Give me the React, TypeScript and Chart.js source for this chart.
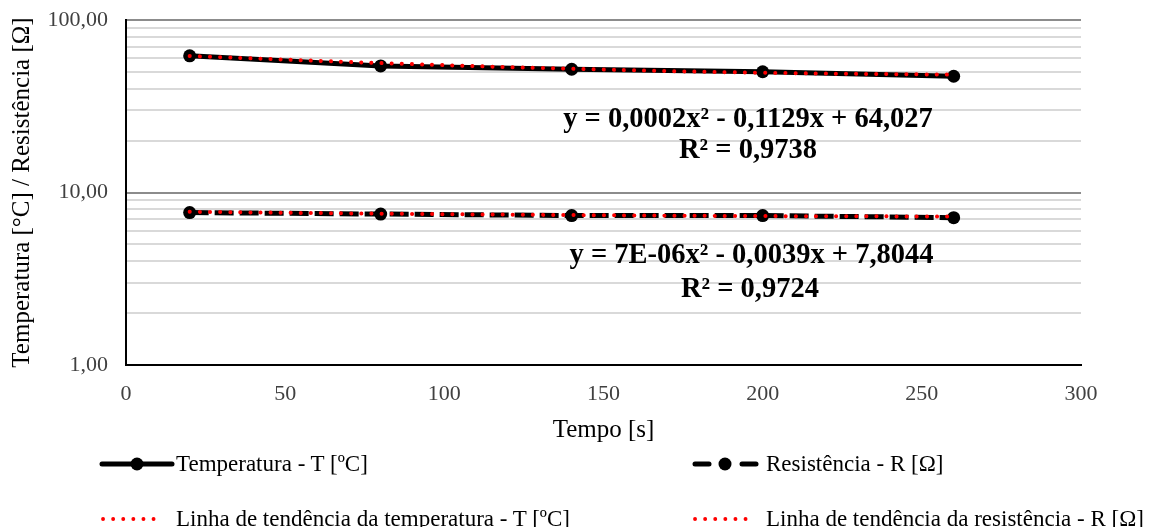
import React, { useEffect, useRef } from "react";
import { Chart, registerables } from "chart.js";

Chart.register(...registerables);

// ---- data ----
const timeValues = [20, 80, 140, 200, 260];
const temperature = [62, 54.2, 51.8, 50.1, 47.2];
const resistance = [7.65, 7.5, 7.35, 7.35, 7.15];
const temperatureTrend = [61.85, 56.27, 52.14, 49.45, 48.19];
const resistanceTrend = [7.73, 7.54, 7.4, 7.3, 7.26];

const xTickValues = [0, 50, 100, 150, 200, 250, 300];
const yGridValues = [1, 2, 3, 4, 5, 6, 7, 8, 9, 10, 20, 30, 40, 50, 60, 70, 80, 90, 100];
const yTickValues = [1, 10, 100];
const yTickLabels = ["1,00", "10,00", "100,00"];

const xTitle = "Tempo [s]";
const yTitle = "Temperatura [°C] / Resistência [Ω]";

const equationTexts = [
  "y = 0,0002x² - 0,1129x + 64,027",
  "R² = 0,9738",
  "y = 7E-06x² - 0,0039x + 7,8044",
  "R² = 0,9724",
];
// label anchors in data units (x in s, y on log axis)
const equationAnchorX = [195.4, 195.4, 196.5, 196];
const equationAnchorY = [26.3, 17.5, 4.3, 2.75];

const legendLabels = [
  "Temperatura - T [ºC]",
  "Resistência - R [Ω]",
  "Linha de tendência da temperatura - T [ºC]",
  "Linha de tendência da resistência - R [Ω]",
];

const FONT = "'Liberation Serif', 'Times New Roman', serif";

const equationPlugin = {
  id: "equations",
  afterDatasetsDraw(chart: any) {
    const { ctx, scales } = chart;
    const x = scales.x;
    const y = scales.y;
    ctx.save();
    ctx.font = `bold 28.5px ${FONT}`;
    ctx.fillStyle = "#000";
    ctx.textAlign = "center";
    ctx.textBaseline = "middle";
    equationTexts.forEach((t, i) => {
      ctx.fillText(t, x.getPixelForValue(equationAnchorX[i]), y.getPixelForValue(equationAnchorY[i]));
    });
    ctx.restore();
  },
};

function LegendSample({ kind }: { kind: string }) {
  if (kind === "temp") {
    return (
      <svg width={76} height={20} style={{ display: "block" }}>
        <line x1={3} y1={10} x2={73} y2={10} stroke="#000" strokeWidth={5} strokeLinecap="round" />
        <circle cx={38} cy={10} r={6.5} fill="#000" />
      </svg>
    );
  }
  if (kind === "res") {
    return (
      <svg width={74} height={20} style={{ display: "block" }}>
        <line x1={4} y1={10} x2={18} y2={10} stroke="#000" strokeWidth={5} strokeLinecap="round" />
        <circle cx={34} cy={10} r={6.5} fill="#000" />
        <line x1={51} y1={10} x2={65} y2={10} stroke="#000" strokeWidth={5} strokeLinecap="round" />
      </svg>
    );
  }
  return (
    <svg width={kind === "trendL" ? 76 : 74} height={20} style={{ display: "block" }}>
      <line x1={4} y1={10} x2={64.5} y2={10} stroke="#ff0000" strokeWidth={3.8} strokeLinecap="round" strokeDasharray="0.1 10" />
    </svg>
  );
}

function LegendItem({ left, top, kind, label }: { left: number; top: number; kind: string; label: string }) {
  return (
    <div
      style={{
        position: "absolute",
        left,
        top,
        display: "flex",
        alignItems: "center",
        height: 24,
        fontFamily: FONT,
        fontSize: 23,
        color: "#000",
        whiteSpace: "nowrap",
      }}
    >
      <LegendSample kind={kind} />
      <span style={{ marginLeft: 1 }}>{label}</span>
    </div>
  );
}

export default function App() {
  const canvasRef = useRef<HTMLCanvasElement | null>(null);

  useEffect(() => {
    const canvas = canvasRef.current;
    if (!canvas) return;
    const chart = new Chart(canvas, {
      type: "line",
      data: {
        datasets: [
          {
            label: legendLabels[2],
            data: timeValues.map((t, i) => ({ x: t, y: temperatureTrend[i] })),
            borderColor: "#ff0000",
            borderWidth: 4,
            borderDash: [0.1, 10],
            borderCapStyle: "round",
            pointRadius: 0,
            tension: 0.4,
            order: 0,
          },
          {
            label: legendLabels[3],
            data: timeValues.map((t, i) => ({ x: t, y: resistanceTrend[i] })),
            borderColor: "#ff0000",
            borderWidth: 4,
            borderDash: [0.1, 10],
            borderCapStyle: "round",
            pointRadius: 0,
            tension: 0.4,
            order: 1,
          },
          {
            label: legendLabels[0],
            data: timeValues.map((t, i) => ({ x: t, y: temperature[i] })),
            borderColor: "#000",
            backgroundColor: "#000",
            borderWidth: 5,
            pointRadius: 6.5,
            pointBackgroundColor: "#000",
            pointBorderWidth: 0,
            tension: 0,
            order: 2,
          },
          {
            label: legendLabels[1],
            data: timeValues.map((t, i) => ({ x: t, y: resistance[i] })),
            borderColor: "#000",
            backgroundColor: "#000",
            borderWidth: 5,
            borderDash: [19, 6],
            pointRadius: 6.5,
            pointBackgroundColor: "#000",
            pointBorderWidth: 0,
            tension: 0,
            order: 3,
          },
        ],
      },
      options: {
        animation: false,
        responsive: false,
        events: [],
        layout: { padding: { left: 0, top: 20, right: 74, bottom: 82 } },
        plugins: {
          legend: { display: false },
          tooltip: { enabled: false },
        },
        scales: {
          x: {
            type: "linear",
            min: 0,
            max: 300,
            afterBuildTicks: (scale: any) => {
              scale.ticks = xTickValues.map((v) => ({ value: v }));
            },
            afterFit: (scale: any) => {
              scale.height = 80;
              scale.paddingLeft = 0;
              scale.paddingRight = 0;
            },
            grid: { display: false, drawTicks: false },
            border: { display: true, color: "#000", width: 2 },
            ticks: {
              autoSkip: false,
              maxRotation: 0,
              padding: 16,
              color: "#404040",
              font: { family: FONT, size: 22 },
              callback: (v: any) => String(v),
            },
            title: {
              display: true,
              text: xTitle,
              color: "#000",
              font: { family: FONT, size: 25 },
              padding: { top: 3, bottom: 0 },
            },
          },
          y: {
            type: "logarithmic",
            min: 1,
            max: 100,
            afterBuildTicks: (scale: any) => {
              scale.ticks = yGridValues.map((v) => ({ value: v }));
            },
            afterFit: (scale: any) => {
              scale.width = 126;
              scale.paddingTop = 0;
              scale.paddingBottom = 0;
            },
            grid: {
              drawTicks: false,
              lineWidth: 2,
              color: (ctx: any) => {
                const v = ctx.tick ? ctx.tick.value : 0;
                return yTickValues.indexOf(v) >= 0 ? "#8c8c8c" : "#d9d9d9";
              },
            },
            border: { display: true, color: "#000", width: 2 },
            ticks: {
              autoSkip: false,
              padding: 18,
              color: "#404040",
              font: { family: FONT, size: 22 },
              callback: (v: any) => {
                const idx = yTickValues.indexOf(Number(v));
                return idx >= 0 ? yTickLabels[idx] : "";
              },
            },
            title: {
              display: true,
              text: yTitle,
              color: "#000",
              font: { family: FONT, size: 25 },
              padding: { top: 7, bottom: 0 },
            },
          },
        },
      } as any,
      plugins: [equationPlugin],
    });
    return () => chart.destroy();
  }, []);

  return (
    <div style={{ position: "fixed", left: 0, top: 0, width: 1155, height: 527, background: "#fff", overflow: "hidden" }}>
      <canvas ref={canvasRef} width={1155} height={527} style={{ width: 1155, height: 527, display: "block" }} />
      <LegendItem left={99} top={452} kind="temp" label={legendLabels[0]} />
      <LegendItem left={691} top={452} kind="res" label={legendLabels[1]} />
      <LegendItem left={99} top={507} kind="trendL" label={legendLabels[2]} />
      <LegendItem left={691} top={507} kind="trend" label={legendLabels[3]} />
    </div>
  );
}
